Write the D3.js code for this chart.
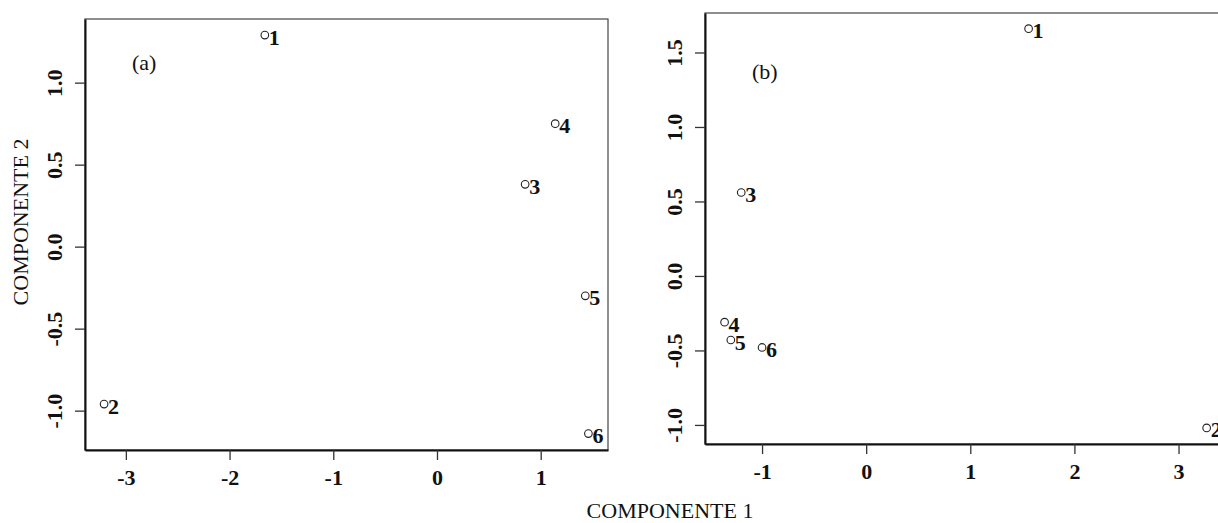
<!DOCTYPE html>
<html>
<head>
<meta charset="utf-8">
<script src="https://cdn.jsdelivr.net/npm/d3@7"></script>
<style>
  body { margin: 0; background: #fff; }
  svg { display: block; font-family: "Liberation Serif", "Times New Roman", serif; }
</style>
</head>
<body>
<svg id="chart"></svg>
<script>
var width = 1218,
    height = 523;

// observations 1..6, component scores for panels (a) and (b)
var labels = ["1", "2", "3", "4", "5", "6"];
var compA1 = [-1.66, -3.21, 0.85, 1.14, 1.43, 1.46];
var compA2 = [1.29, -0.96, 0.38, 0.75, -0.30, -1.14];
var compB1 = [1.56, 3.27, -1.20, -1.36, -1.30, -1.00];
var compB2 = [1.66, -1.02, 0.56, -0.31, -0.43, -0.48];

var xTicksA = [-3, -2, -1, 0, 1];
var yTicksA = [-1.0, -0.5, 0.0, 0.5, 1.0];
var xTicksB = [-1, 0, 1, 2, 3];
var yTicksB = [-1.0, -0.5, 0.0, 0.5, 1.0, 1.5];

var fontSize = "22px";

var chart = d3.select("#chart")
    .attr("width", width)
    .attr("height", height);

var panels = [
    { tag: "(a)", xs: compA1, ys: compA2, xTicks: xTicksA, yTicks: yTicksA,
      xDomain: [-3.394, 1.649], yDomain: [-1.240, 1.388],
      left: 85, right: 608, top: 19, bottom: 450, tagX: 132, tagY: 70 },
    { tag: "(b)", xs: compB1, ys: compB2, xTicks: xTicksB, yTicks: yTicksB,
      xDomain: [-1.548, 3.6], yDomain: [-1.128, 1.765],
      left: 705, right: 1241, top: 13, bottom: 444, tagX: 752, tagY: 79 }
];

panels.forEach(function(p) {
    var x = d3.scaleLinear().domain(p.xDomain).range([p.left, p.right]);
    var y = d3.scaleLinear().domain(p.yDomain).range([p.bottom, p.top]);

    var g = chart.append("g");

    // box
    g.append("rect")
        .attr("x", p.left)
        .attr("y", p.top)
        .attr("width", p.right - p.left)
        .attr("height", p.bottom - p.top)
        .attr("fill", "none")
        .attr("stroke", "#444")
        .attr("stroke-width", 1.2);

    var xAxis = g.append("g")
        .attr("transform", "translate(0," + p.bottom + ")")
        .call(d3.axisBottom(x)
            .tickValues(p.xTicks)
            .tickSize(10)
            .tickPadding(9.5)
            .tickSizeOuter(0)
            .tickFormat(function(d) { return String(d); }));

    var yAxis = g.append("g")
        .attr("transform", "translate(" + p.left + ",0)")
        .call(d3.axisLeft(y)
            .tickValues(p.yTicks)
            .tickSize(10)
            .tickSizeOuter(0)
            .tickFormat(function(d) { return d.toFixed(1); }));

    [xAxis, yAxis].forEach(function(a) {
        a.select(".domain").attr("stroke", "#111").attr("stroke-width", 2);
        a.selectAll(".tick line").attr("stroke", "#333").attr("stroke-width", 1.3);
        a.selectAll(".tick text")
            .attr("fill", "#111")
            .style("font-family", "Liberation Serif, serif")
            .style("font-size", fontSize)
            .style("font-weight", "bold");
    });

    yAxis.selectAll(".tick text")
        .attr("x", null)
        .attr("dy", null)
        .attr("text-anchor", "middle")
        .attr("transform", "translate(-23.5,0) rotate(-90)");

    var pts = g.selectAll(".pt")
        .data(labels)
        .enter().append("g")
        .attr("class", "pt");

    pts.append("circle")
        .attr("cx", function(d, i) { return x(p.xs[i]); })
        .attr("cy", function(d, i) { return y(p.ys[i]); })
        .attr("r", 3.8)
        .attr("fill", "none")
        .attr("stroke", "#222")
        .attr("stroke-width", 1.1);

    pts.append("text")
        .attr("x", function(d, i) { return x(p.xs[i]) + 4; })
        .attr("y", function(d, i) { return y(p.ys[i]) + 9.5; })
        .style("font-size", fontSize)
        .style("font-weight", "bold")
        .attr("fill", "#111")
        .text(function(d) { return d; });

    g.append("text")
        .attr("x", p.tagX)
        .attr("y", p.tagY)
        .style("font-size", fontSize)
        .attr("fill", "#111")
        .text(p.tag);
});

chart.append("text")
    .attr("transform", "translate(28,222) rotate(-90)")
    .attr("text-anchor", "middle")
    .style("font-size", fontSize)
    .attr("fill", "#111")
    .text("COMPONENTE 2");

chart.append("text")
    .attr("x", 670)
    .attr("y", 518)
    .attr("text-anchor", "middle")
    .style("font-size", fontSize)
    .attr("fill", "#111")
    .text("COMPONENTE 1");
</script>
</body>
</html>
